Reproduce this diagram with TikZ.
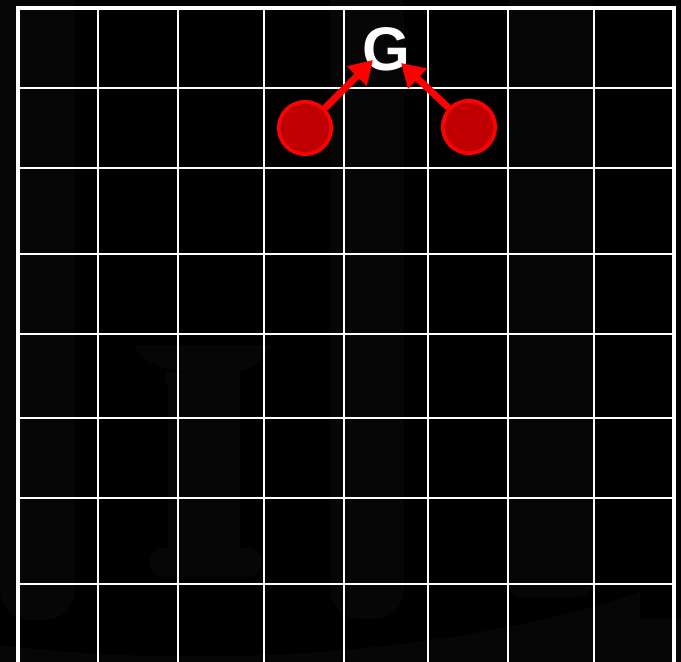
\documentclass[tikz,border=0pt]{standalone}
\usepackage{fontspec}
\newfontfamily\labelfont{Liberation Sans}
\usepackage{xcolor}
\usepackage{tikz}
\usetikzlibrary{calc,arrows.meta}
\definecolor{faint}{HTML}{060606}
\definecolor{ballred}{HTML}{C00000}

\begin{document}
\begin{tikzpicture}[
  x=0.02cm, y=-0.02cm,
  gridline/.style={draw=white, line width=1.13pt},
  frame/.style={draw=white, line width=2.27pt},
  ball/.style={circle, draw=red, fill=ballred, line width=2.1pt,
    minimum size=1.05cm, inner sep=0pt},
  goallbl/.style={text=white, inner sep=0pt,
    font=\labelfont\bfseries\fontsize{35}{40}\selectfont},
  arr/.style={-{Triangle[length=13pt,width=15pt]}, red, line width=3.9pt}
]
\useasboundingbox (0,0) rectangle (681,662);
\fill[black] (0,0) rectangle (681,662);

% ---- faint scenery ----
\fill[faint, rounded corners=0.6cm] (0,-40) rectangle (75,620);
\fill[faint, rounded corners=0.6cm] (330,-40) rectangle (404,619);
\fill[faint, rounded corners=0.3cm] (508,-40) rectangle (593,597);

\fill[faint] (134,345) -- (272,345)
  .. controls (262,364) and (248,370) .. (238,372) -- (190,372)
  .. controls (160,370) and (140,360) .. cycle;
\fill[faint, rounded corners=0.1cm] (165,372) rectangle (190,386);
\fill[faint] (168,372) rectangle (240,552);
\fill[faint, rounded corners=0.28cm] (150,548) rectangle (262,577);

\fill[faint] (0,645) .. controls (220,672) and (470,650) .. (640,592)
  -- (640,618) -- (690,618) -- (690,670) -- (0,670) -- cycle;

% ---- grid ----
\foreach \x in {98,178,264,344,428,508,594}
  \draw[gridline] (\x,8) -- (\x,662);
\foreach \y in {88,168,254,334,418,498,584}
  \draw[gridline] (18,\y) -- (674,\y);
\draw[frame] (18,662) -- (18,8) -- (674,8) -- (674,662);

% ---- goal and balls ----
\node[goallbl] (goal) at (386,49) {G};

\node[ball] (lball) at (305,128) {};
\node[ball] (rball) at (469,127) {};

\draw[arr] (lball) -- ($(goal.center)+(-13,11)$);
\draw[arr] (rball) -- ($(goal.center)+(15,14)$);
\end{tikzpicture}
\end{document}
